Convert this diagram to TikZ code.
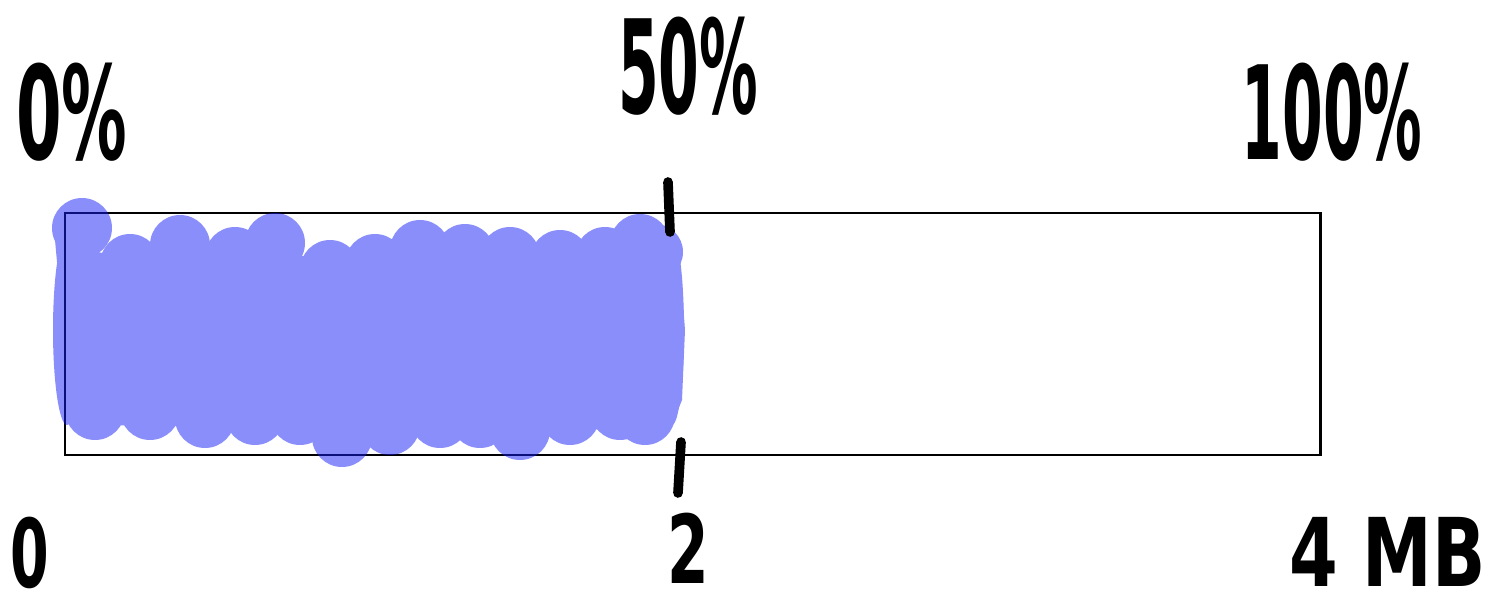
\documentclass[tikz,border=0pt]{standalone}
\usepackage{fontspec}
\setmainfont{DejaVu Sans Condensed}
\definecolor{blobc}{RGB}{20,30,245}
\begin{document}
\begin{tikzpicture}[x=0.02cm,y=-0.02cm,
  lbl/.style={inner sep=0pt, font=\bfseries\fontsize{74}{74}\selectfont},
  lbs/.style={inner sep=0pt, font=\bfseries\fontsize{54}{54}\selectfont},
  tickmark/.style={line width=5.5pt, line cap=round},
  barbox/.style={draw=black, line width=1.7pt}]
\useasboundingbox (0,0) rectangle (1500,614);
% bar outline
\draw[barbox] (65,213) rectangle (1320,455);
\node[inner sep=0pt] (bar) at (692,334) {};
% translucent filled blob (hand coloured)
\begin{scope}[transparency group, opacity=0.5]
  \fill[blobc] (55,240) -- (120,258) -- (640,252) -- (670,245) -- (682,290) -- (685,330) -- (682,400) -- (670,430) -- (72,425) -- cycle;
  \foreach \x/\y/\r in {82/228/30, 130/264/30, 180/245/30, 235/257/30, 275/243/30, 330/270/30,
      375/264/30, 420/250/30, 465/254/30, 510/257/30, 560/260/30, 605/257/30, 640/244/30, 655/252/28}
    \fill[blobc] (\x,\y) circle (\r);
  \foreach \x/\y/\r in {95/410/30, 150/410/30, 205/418/30, 255/415/30, 300/415/30, 342/437/30,
      390/425/30, 440/418/30, 480/418/30, 520/430/30, 570/415/30, 620/410/30, 645/415/30}
    \fill[blobc] (\x,\y) circle (\r);
  \fill[blobc] (67,330) ellipse (14 and 95);
  \fill[blobc] (672,330) ellipse (12 and 95);
\end{scope}
% tick marks at 50%
\coordinate (t1a) at (668,182);
\coordinate (t1b) at (670,232);
\coordinate (t2a) at (681,442);
\coordinate (t2b) at (678,493);
\draw[tickmark] (t1a) -- (t1b);
\draw[tickmark] (t2a) -- (t2b);
% labels
\node[lbl] (p0) at (72,112) {\scalebox{0.56}[1]{0\%}};
\node[lbl] (p50) at (688,66) {\scalebox{0.5}[1]{50\%}};
\node[lbl] (p100) at (1332,112) {\scalebox{0.5}[1]{100\%}};
\node[lbs] (m0) at (30,553) {\scalebox{0.65}[1]{0}};
\node[lbs] (m2) at (688,548) {\scalebox{0.7}[1]{2}};
\node[lbs] (m4) at (1388,552) {\scalebox{0.82}[1]{4 MB}};
\end{tikzpicture}
\end{document}
